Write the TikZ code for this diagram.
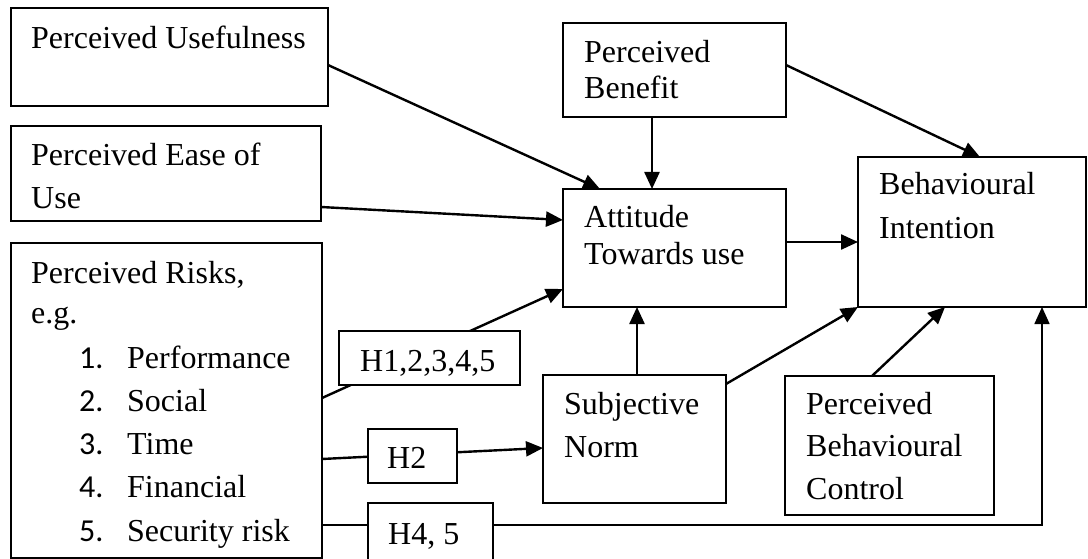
\documentclass[tikz,border=0pt]{standalone}
\usepackage{fontspec}
\setmainfont{Liberation Serif}
\newfontfamily\numfont{Carlito}
\usetikzlibrary{arrows.meta}
\begin{document}
\begin{tikzpicture}[x=1pt,y=-1pt,
  box/.style={draw, line width=1.5pt, fill=white, rectangle, inner sep=0pt, outer sep=0pt, anchor=north west},
  txt/.style={anchor=base west, inner sep=0pt, font=\fontsize{32}{42}\selectfont},
  num/.style={txt, font=\fontsize{32}{42}\selectfont\numfont},
  conn/.style={line width=2.4pt},
  arr/.style={conn, -{Triangle[length=17pt,width=15pt]}},
  thinarr/.style={line width=1.6pt, -{Triangle[length=17pt,width=15pt]}}]
\fill[white] (0,0) rectangle (1088,559);
\useasboundingbox (0,0) rectangle (1088,559);
\clip (0,0) rectangle (1088,559);

% main boxes
\node[box, minimum width=317pt, minimum height=98pt]  (pu)   at (11,8) {};
\node[box, minimum width=310pt, minimum height=95pt]  (peou) at (11,126) {};
\node[box, minimum width=311pt, minimum height=315pt] (pr)   at (11,243) {};
\node[box, minimum width=223pt, minimum height=94pt]  (pb)   at (563,23) {};
\node[box, minimum width=223pt, minimum height=118pt] (att)  at (563,189) {};
\node[box, minimum width=228pt, minimum height=150pt] (bi)   at (858,157) {};
\node[box, minimum width=183pt, minimum height=128pt] (sn)   at (543,375) {};
\node[box, minimum width=209pt, minimum height=139pt] (pbc)  at (785,376) {};

% connectors
\draw[arr] ([yshift=-8pt]pu.east) -- ([xshift=37pt]att.north west);
\draw[arr] ([yshift=14pt]peou.south east) -- ([yshift=-31pt]att.north west);
\draw[arr] ([xshift=89pt]pb.south west) -- ([xshift=89pt]att.north west);
\draw[arr] ([yshift=-42pt]pb.north east) -- ([xshift=122pt]bi.north west);
\draw[arr] ([yshift=-53pt]att.north east) -- ([yshift=-85pt]bi.north west);
\draw[arr] ([xshift=74pt]att.south west |- sn.north) -- ([xshift=74pt]att.south west);
\draw[arr] ([yshift=-9pt]sn.north east) -- (bi.south west);
\draw[arr] ([xshift=87pt]pbc.north west) -- ([xshift=87pt]bi.south west);
\draw[arr] ([yshift=-155pt]pr.north east) -- ([yshift=-100pt]att.north west);
\draw[arr] ([yshift=-216pt]pr.north east) -- ([yshift=-73pt]sn.north west);
\draw[thinarr] ([yshift=-282pt]pr.north east) -| ([xshift=184pt]bi.south west);

% hypothesis boxes (on top of the connectors)
\node[box, minimum width=181pt, minimum height=54pt] (h1) at (339,331) {};
\node[box, minimum width=89pt,  minimum height=54pt] (h2) at (368,429) {};
\node[box, minimum width=125pt, minimum height=72pt] (h4) at (368,503) {};

% texts
\node[txt] (tpu)   at (31,49)  {Perceived Usefulness};
\node[txt] (tpe1)  at (31,166) {Perceived Ease of};
\node[txt] (tpe2)  at (31,208) {Use};
\node[txt] (tpr1)  at (31,283) {Perceived Risks,};
\node[txt] (tpr2)  at (31,323) {e.g.};
\node[num] (n1)    at (79,368) {1.};
\node[txt] (i1)    at (127,368) {Performance};
\node[num] (n2)    at (79,411) {2.};
\node[txt] (i2)    at (127,411) {Social};
\node[num] (n3)    at (79,454) {3.};
\node[txt] (i3)    at (127,454) {Time};
\node[num] (n4)    at (79,497) {4.};
\node[txt] (i4)    at (127,497) {Financial};
\node[num] (n5)    at (79,541) {5.};
\node[txt] (i5)    at (127,541) {Security risk};
\node[txt] (tpb1)  at (584,63)  {Perceived};
\node[txt] (tpb2)  at (584,99)  {Benefit};
\node[txt] (tat1)  at (584,228) {Attitude};
\node[txt] (tat2)  at (584,265) {Towards use};
\node[txt] (tbi1)  at (879,195) {Behavioural};
\node[txt] (tbi2)  at (879,238) {Intention};
\node[txt] (tsn1)  at (564,414) {Subjective};
\node[txt] (tsn2)  at (564,457) {Norm};
\node[txt] (tpc1)  at (806,414) {Perceived};
\node[txt] (tpc2)  at (806,456) {Behavioural};
\node[txt] (tpc3)  at (806,499) {Control};
\node[txt] (th1)   at (360,371) {H1,2,3,4,5};
\node[txt] (th2)   at (387,468) {H2};
\node[txt] (th4)   at (388,544) {H4, 5};
\end{tikzpicture}
\end{document}
